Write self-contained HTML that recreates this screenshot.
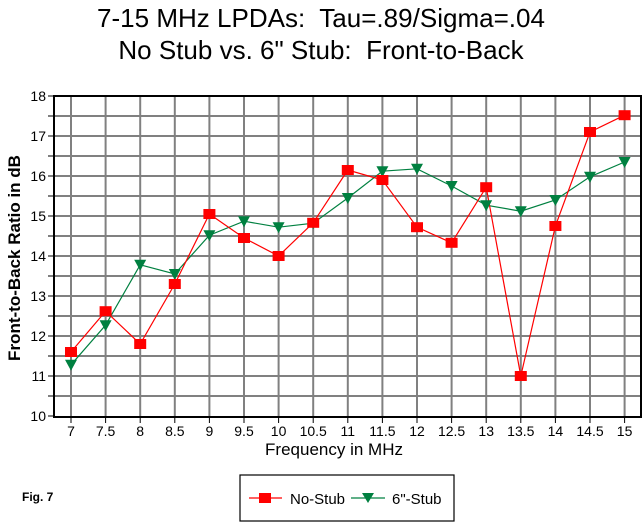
<!DOCTYPE html>
<html><head><style>body{margin:0;background:#fff}svg{display:block}text{white-space:pre}</style></head><body>
<svg width="644" height="524" xmlns="http://www.w3.org/2000/svg" font-family="Liberation Sans, Arial, sans-serif">
<rect width="644" height="524" fill="#fff"/>
<text x="321" y="27" font-size="26" text-anchor="middle" textLength="448" lengthAdjust="spacingAndGlyphs">7-15 MHz LPDAs:&#160; Tau=.89/Sigma=.04</text>
<text x="321" y="59" font-size="26" text-anchor="middle">No Stub vs. 6" Stub:&#160; Front-to-Back</text>
<g id="grid" stroke="#808080" stroke-width="2"></g>
<g id="ax"></g>
<text x="14" y="258" font-size="17" font-weight="bold" text-anchor="middle" transform="rotate(-90 14 258)" dy="6">Front-to-Back Ratio in dB</text>
<text x="334" y="455" font-size="17" text-anchor="middle">Frequency in MHz</text>
<text x="22" y="501" font-size="12" font-weight="bold">Fig. 7</text>
<rect x="240" y="475" width="214" height="46" fill="none" stroke="#000" stroke-width="1.2"/>
<line x1="249" y1="498" x2="282" y2="498" stroke="#f00" stroke-width="1.2"/>
<rect x="259" y="493" width="12" height="10" fill="#f00"/>
<text x="290" y="504" font-size="15">No-Stub</text>
<line x1="351" y1="498" x2="385" y2="498" stroke="#008040" stroke-width="1.2"/>
<polygon points="362,493 374,493 368,503" fill="#008040"/>
<text x="392" y="504" font-size="15">6"-Stub</text>
<g id="series"></g>
</svg>
<script>
var ns="http://www.w3.org/2000/svg";
function el(p,t,a,txt){var e=document.createElementNS(ns,t);for(var k in a)e.setAttribute(k,a[k]);if(txt!=null)e.textContent=txt;p.appendChild(e);return e;}
var L=54,R=641,T=96,B=417;
function X(f){return 71+(f-7)*69.2;}
function Y(v){return 96+(18-v)*40;}
var g=document.getElementById('grid'),ax=document.getElementById('ax'),s=document.getElementById('series');
for(var v=10.5;v<18;v+=0.5)el(g,'line',{x1:L,x2:R,y1:Y(v),y2:Y(v)});
for(var f=7;f<=15.01;f+=0.5)el(g,'line',{x1:X(f),x2:X(f),y1:T,y2:B});
el(ax,'rect',{x:L,y:T,width:R-L,height:B-T,fill:'none',stroke:'#000','stroke-width':2});
for(var v=10;v<=18;v+=0.5){el(ax,'line',{x1:48,x2:L,y1:Y(v),y2:Y(v),stroke:'#000','stroke-width':1});
 if(v%1==0)el(ax,'text',{x:46,y:Y(v)+5,'font-size':14,'text-anchor':'end'},String(v));}
for(var f=7;f<=15.01;f+=0.5){el(ax,'line',{x1:X(f),x2:X(f),y1:B,y2:B+6,stroke:'#000'});
 el(ax,'text',{x:X(f),y:436,'font-size':14,'text-anchor':'middle'},String(f));}
var a=[11.6,12.62,11.8,13.3,15.05,14.45,14.0,14.83,16.15,15.9,14.72,14.33,15.72,11.0,14.75,17.1,17.52];
var b=[11.28,12.27,13.78,13.55,14.52,14.87,14.72,14.82,15.45,16.12,16.18,15.75,15.27,15.12,15.4,15.98,16.35];
function pts(d){return d.map(function(v,i){return X(7+i*0.5)+','+Y(v)}).join(' ');}
el(s,'polyline',{points:pts(b),fill:'none',stroke:'#008040','stroke-width':1.2});
el(s,'polyline',{points:pts(a),fill:'none',stroke:'#f00','stroke-width':1.2});
b.forEach(function(v,i){var x=X(7+i*0.5),y=Y(v);el(s,'polygon',{points:(x-6)+','+(y-5)+' '+(x+6)+','+(y-5)+' '+x+','+(y+6),fill:'#008040'});});
a.forEach(function(v,i){var x=X(7+i*0.5),y=Y(v);el(s,'rect',{x:x-6,y:y-5,width:12,height:10,fill:'#f00'});});
</script>
</body></html>
